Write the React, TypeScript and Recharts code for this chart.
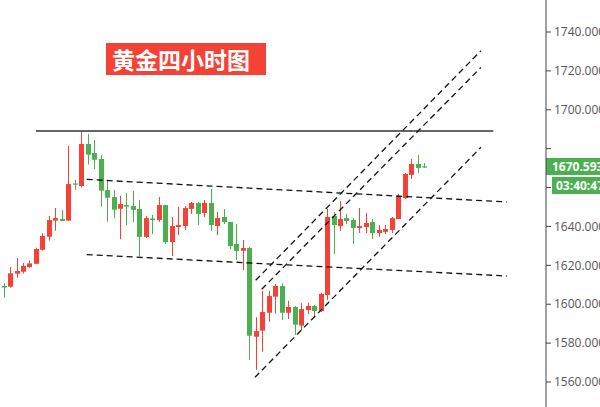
import React from "react";
import { ComposedChart, Bar, XAxis, YAxis, ReferenceLine } from "recharts";

const RED = "#f44336";
const GREEN = "#4caf50";

// 4h candles, oldest first
const open = [
  1609.4, 1609.0, 1615.7, 1616.7, 1619.1, 1620.8, 1628.0, 1634.7, 1643.0, 1643.8,
  1643.0, 1662.1, 1660.8, 1682.4, 1677.8, 1674.7, 1658.7, 1655.1, 1649.1, 1651.0,
  1650.5, 1649.0, 1634.6, 1644.1, 1643.3, 1651.0, 1632.0, 1639.7, 1640.2, 1649.0,
  1652.1, 1646.9, 1652.1, 1640.2, 1644.9, 1642.3, 1631.0, 1627.5, 1628.9, 1583.3,
  1586.4, 1595.6, 1603.9, 1609.4, 1595.6, 1598.6, 1589.0, 1597.0, 1599.1, 1596.5,
  1604.7, 1645.4, 1640.2, 1644.3, 1643.3, 1639.2, 1639.7, 1642.3, 1636.6, 1637.2,
  1638.2, 1643.8, 1654.6, 1666.5, 1672.1, 1670.9,
];
const high = [
  1610.8, 1619.1, 1623.8, 1621.2, 1622.6, 1629.1, 1636.5, 1645.4, 1649.5, 1648.5,
  1681.4, 1663.9, 1689.1, 1687.5, 1684.5, 1676.7, 1663.9, 1658.7, 1655.7, 1657.2,
  1658.2, 1653.6, 1645.4, 1645.9, 1655.1, 1651.0, 1644.9, 1650.0, 1650.5, 1652.6,
  1652.6, 1653.6, 1659.3, 1647.4, 1649.0, 1642.3, 1641.3, 1633.0, 1629.4, 1593.3,
  1606.9, 1606.8, 1610.4, 1610.8, 1601.8, 1599.1, 1600.5, 1600.8, 1599.6, 1605.8,
  1649.0, 1647.4, 1653.1, 1646.4, 1644.3, 1649.5, 1646.9, 1643.8, 1640.7, 1640.7,
  1644.9, 1656.7, 1667.5, 1674.7, 1676.7, 1672.6,
];
const low = [
  1603.4, 1608.5, 1613.6, 1615.7, 1618.8, 1620.7, 1627.5, 1632.7, 1637.8, 1642.8,
  1642.8, 1658.9, 1660.1, 1671.8, 1669.5, 1650.2, 1642.4, 1644.2, 1633.4, 1640.7,
  1642.3, 1624.8, 1634.1, 1636.1, 1642.3, 1631.0, 1624.8, 1635.6, 1638.2, 1646.4,
  1640.7, 1644.9, 1637.7, 1635.6, 1641.3, 1628.4, 1622.7, 1617.6, 1571.3, 1566.2,
  1575.6, 1591.0, 1595.1, 1591.9, 1592.4, 1584.2, 1586.7, 1595.0, 1593.6, 1596.0,
  1602.2, 1625.8, 1637.7, 1641.3, 1631.0, 1636.6, 1636.6, 1633.5, 1634.6, 1636.1,
  1636.6, 1643.8, 1654.1, 1664.4, 1667.5, 1670.1,
];
const close = [
  1608.6, 1615.9, 1617.1, 1619.7, 1621.0, 1628.4, 1635.1, 1643.3, 1644.3, 1642.8,
  1661.8, 1661.6, 1682.4, 1676.9, 1674.3, 1658.4, 1654.8, 1648.6, 1651.5, 1650.2,
  1648.5, 1634.6, 1644.3, 1643.3, 1651.0, 1632.0, 1640.2, 1640.7, 1649.5, 1652.1,
  1646.4, 1652.1, 1640.7, 1644.3, 1642.3, 1629.9, 1627.4, 1628.9, 1583.8, 1586.2,
  1596.0, 1604.2, 1609.4, 1595.6, 1598.6, 1589.5, 1597.5, 1599.1, 1596.5, 1605.3,
  1644.9, 1640.7, 1643.8, 1642.8, 1639.2, 1640.2, 1641.8, 1636.6, 1638.2, 1638.7,
  1644.3, 1655.7, 1667.0, 1672.1, 1670.1, 1670.6,
];

const priceTicks = [1560, 1580, 1600, 1620, 1640, 1660, 1680, 1700, 1720, 1740];
const lastPrice = 1670.593;
const countdown = "03:40:47";
const title = "黄金四小时图";

// hand-drawn trend lines, [x1, y1, x2, y2] in candle index / price
const resistance = [5.05, 1689.1, 75.73, 1689.1];
const dashedLines = [
  [12.89, 1664.2, 77.81, 1652.6],
  [12.89, 1625.5, 77.85, 1614.5],
  [39.01, 1612.3, 73.83, 1730.4],
  [39.94, 1607.7, 73.83, 1721.8],
  [38.9, 1562.4, 73.83, 1680.7],
];

const data = open.map((o, i) => ({ i, o, h: high[i], l: low[i], c: close[i] }));

const FONT = "Open Sans, sans-serif";

const Candle = (props: any) => {
  const { x, y, width, height, payload } = props;
  const { o, h, l, c } = payload;
  const color = c >= o ? RED : GREEN;
  const cx = Math.round(x + width / 2) + 0.5;
  const k = height / (h - l);
  const top = y + (h - Math.max(o, c)) * k;
  const bot = y + (h - Math.min(o, c)) * k;
  return (
    <g>
      <line x1={cx} x2={cx} y1={y} y2={y + height} stroke={color} strokeWidth={1} />
      <rect x={cx - 2.5} y={top} width={5} height={Math.max(bot - top, 1.2)} fill={color} />
    </g>
  );
};

// the price / countdown tags cover the tick label sitting under them
const PriceTick = (props: any) => {
  const { x, y, payload } = props;
  if (Math.abs(payload.value - lastPrice) < 15) return null;
  return (
    <text x={x} y={y} dy="0.355em" fill="#555" fontSize={12} fontFamily={FONT} textAnchor="start">
      {payload.value.toFixed(3)}
    </text>
  );
};

const PriceTag = (props: any) => {
  const { viewBox } = props;
  const left = viewBox.x + viewBox.width;
  const y = viewBox.y;
  return (
    <g>
      <rect x={left} y={y - 9} width={60} height={17} fill={GREEN} />
      <text x={left + 6} y={y} dy="0.35em" fill="#fff" fontSize={12} fontWeight="bold" fontFamily={FONT}>
        {lastPrice.toFixed(3)}
      </text>
      <rect x={left + 6} y={y + 10} width={60} height={17} fill={GREEN} />
      <text x={left + 10} y={y + 18.5} dy="0.35em" fill="#fff" fontSize={12} fontWeight="bold" fontFamily={FONT}>
        {countdown}
      </text>
    </g>
  );
};

export default function App() {
  return (
    <div style={{ position: "absolute", left: 0, top: 0, width: 600, height: 407, background: "#fff" }}>
      <ComposedChart width={600} height={407} data={data} margin={{ top: 0, right: 0, bottom: 0, left: 0 }}>
        <XAxis type="number" dataKey="i" domain={[-0.51, 83.88]} allowDataOverflow hide />
        <YAxis
          orientation="right"
          domain={[1547.14, 1756.46]}
          allowDataOverflow
          ticks={priceTicks}
          width={54}
          tickSize={5}
          tickMargin={3}
          axisLine={{ stroke: "#444" }}
          tickLine={{ stroke: "#444" }}
          tick={<PriceTick />}
        />
        <ReferenceLine
          segment={[{ x: resistance[0], y: resistance[1] }, { x: resistance[2], y: resistance[3] }]}
          stroke="#333"
          strokeWidth={1.5}
        />
        {dashedLines.map((s, k) => (
          <ReferenceLine
            key={k}
            segment={[{ x: s[0], y: s[1] }, { x: s[2], y: s[3] }]}
            stroke="#111"
            strokeWidth={1.3}
            strokeDasharray="6 4"
          />
        ))}
        <Bar dataKey={(d: any) => [d.l, d.h]} barSize={5} shape={<Candle />} isAnimationActive={false} />
        <ReferenceLine y={lastPrice} stroke="none" label={<PriceTag />} />
      </ComposedChart>
      <div
        style={{
          position: "absolute",
          left: 106,
          top: 43,
          width: 160,
          height: 32,
          background: RED,
          color: "#fff",
          fontFamily: "Noto Sans CJK SC, sans-serif",
          fontWeight: "bold",
          fontSize: 23,
          lineHeight: "32px",
          paddingLeft: 6,
          boxSizing: "border-box",
          whiteSpace: "nowrap",
        }}
      >
        {title}
      </div>
    </div>
  );
}
